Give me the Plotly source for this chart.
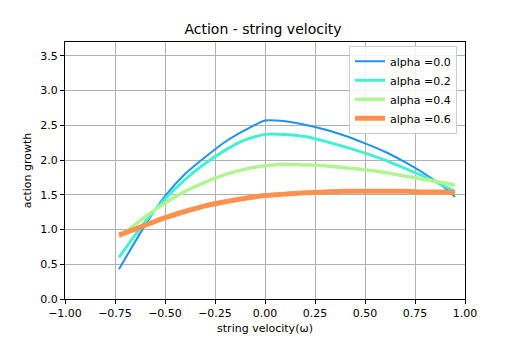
import plotly.graph_objects as go

# string velocity samples
x = [-0.73, -0.6, -0.5, -0.4, -0.3, -0.2, -0.1, 0.0, 0.1, 0.2, 0.3, 0.4,
     0.5, 0.6, 0.7, 0.8, 0.9, 0.95]

# action growth per alpha
a00 = [0.43, 1.06, 1.48, 1.80, 2.04, 2.26, 2.43, 2.57, 2.56, 2.51, 2.44, 2.35,
       2.24, 2.12, 1.97, 1.80, 1.60, 1.47]
a02 = [0.60, 1.11, 1.44, 1.72, 1.95, 2.14, 2.29, 2.37, 2.37, 2.34, 2.27, 2.19,
       2.10, 2.00, 1.88, 1.76, 1.62, 1.55]
a04 = [0.89, 1.18, 1.38, 1.55, 1.68, 1.79, 1.87, 1.92, 1.94, 1.93, 1.92, 1.89,
       1.86, 1.82, 1.77, 1.72, 1.67, 1.64]
a06 = [0.92, 1.06, 1.17, 1.26, 1.34, 1.40, 1.45, 1.49, 1.51, 1.53, 1.54, 1.55,
       1.55, 1.55, 1.55, 1.54, 1.54, 1.53]

names = ["alpha =0.0", "alpha =0.2", "alpha =0.4", "alpha =0.6"]
series = [a00, a02, a04, a06]
colors = ["#1f92f0", "#42f0d2", "#b2f392", "#ff9150"]
widths = [2, 3, 3.5, 5]

fig = go.Figure()
for name, ys, c, w in zip(names, series, colors, widths):
    fig.add_trace(go.Scatter(x=x, y=ys, mode="lines", name=name,
                             line=dict(color=c, width=w, shape="spline", smoothing=0.6)))

axis = dict(showline=True, linecolor="black", linewidth=1, mirror=True,
            ticks="outside", ticklen=4, tickcolor="black",
            showgrid=True, gridcolor="#b0b0b0", gridwidth=1, zeroline=False,
            tickfont=dict(size=11, color="black"))

# page body has an 8px margin, so the figure is sized/offset to compensate
fig.update_layout(
    width=510, height=337,
    margin=dict(l=57, r=53, t=34, b=44),
    paper_bgcolor="white", plot_bgcolor="white",
    font=dict(family="DejaVu Sans", size=11, color="black"),
    title=dict(text="Action - string velocity", x=0.5, xanchor="center",
               y=0.938, yanchor="middle", font=dict(size=14)),
    xaxis=dict(axis, range=[-1, 1], dtick=0.25, tickformat=".2f",
               title=dict(text="string velocity(ω)", font=dict(size=11), standoff=5)),
    yaxis=dict(axis, range=[0, 3.7], dtick=0.5, tickformat=".1f",
               title=dict(text="action growth", font=dict(size=11), standoff=6)),
    legend=dict(x=0.98, y=0.985, xanchor="right", yanchor="top",
                bgcolor="rgba(255,255,255,0.85)", bordercolor="#cccccc", borderwidth=1,
                font=dict(size=11), tracegroupgap=0, itemwidth=30),
    showlegend=True,
)

fig.write_html("out.html")
